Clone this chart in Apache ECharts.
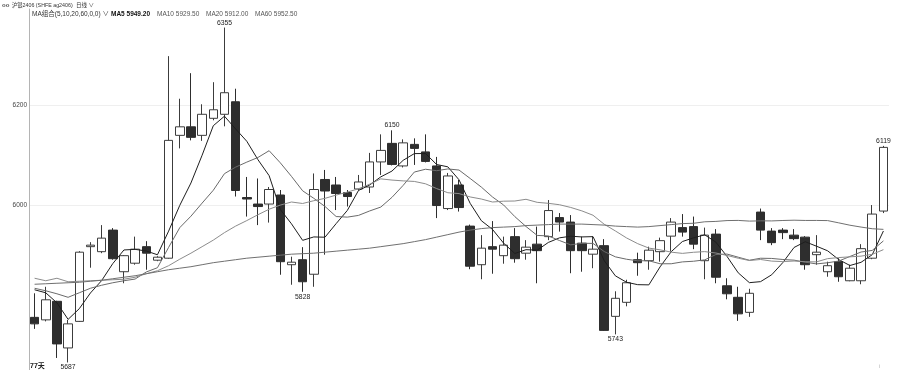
<!DOCTYPE html>
<html><head><meta charset="utf-8">
<script src="https://cdn.jsdelivr.net/npm/echarts@6/dist/echarts.min.js"></script>
<style>html,body{margin:0;padding:0;background:#fff}#c{width:900px;height:370px}</style>
</head><body><div id="c"></div>
<script>
// ---- data ----
const categories = ['1','2','3','4','5','6','7','8','9','10','11','12','13','14','15','16','17','18','19','20',
'21','22','23','24','25','26','27','28','29','30','31','32','33','34','35','36','37','38','39','40',
'41','42','43','44','45','46','47','48','49','50','51','52','53','54','55','56','57','58','59','60',
'61','62','63','64','65','66','67','68','69','70','71','72','73','74','75','76','77'];
const opens = [5777,5772,5809,5716,5769,5918,5908,5951,5868,5885,5918,5891,5895,6140,6157,6140,6174,6182,6207,6016,
6003,6003,6021,5882,5892,5863,6052,6041,6026,6033,6037,6087,6124,6079,6122,6107,6079,5994,6041,5959,
5882,5918,5900,5938,5905,5923,5938,5976,5967,5925,5903,5920,5779,5807,5892,5890,5908,5939,5956,5958,
5890,5943,5840,5817,5787,5987,5949,5951,5941,5937,5902,5868,5888,5850,5850,5895,5989];
const closes = [5764,5812,5724,5764,5907,5921,5935,5894,5900,5913,5905,5897,6130,6157,6136,6182,6191,6225,6030,6013,
5998,6032,5888,5887,5848,6032,6029,6024,6018,6047,6087,6110,6082,6125,6114,6088,6000,6059,5996,5879,
5915,5913,5921,5894,5917,5910,5990,5967,5910,5910,5913,5751,5815,5846,5886,5911,5930,5967,5947,5923,
5941,5857,5824,5784,5825,5951,5926,5946,5934,5882,5907,5880,5858,5875,5914,5983,6116];
const lows = [5754,5769,5696,5687,5768,5876,5905,5892,5845,5882,5872,5889,5894,6114,6130,6129,6170,6158,6018,5978,
5961,5966,5862,5842,5828,5838,5902,5991,5998,6030,6025,6061,6080,6076,6081,6086,5975,5991,5988,5873,
5853,5864,5884,5886,5892,5845,5931,5948,5865,5868,5875,5750,5743,5799,5860,5872,5888,5908,5938,5913,
5853,5845,5813,5770,5778,5931,5921,5933,5931,5872,5882,5858,5848,5849,5843,5893,5985];
const highs = [5825,5838,5810,5772,5909,5927,5961,5955,5901,5938,5929,5899,6298,6213,6264,6202,6246,6355,6233,6057,
6054,6037,6031,5898,5917,6064,6071,6057,6031,6061,6105,6142,6150,6132,6134,6142,6097,6065,6051,5962,
5941,5969,5938,5955,5931,5958,6011,5985,5981,5938,5938,5933,5829,5852,5906,5918,5936,5975,5983,5978,
5956,5953,5855,5838,5834,5994,5955,5955,5953,5939,5941,5888,5895,5882,5923,6001,6119];
// moving-average values before enough days are shown
const ma5Lead  = [5832,5826,5806,5773];
const ma10Lead = [5835,5830,5824,5817,5826,5835,5841,5846,5850];
const ma20Lead = [5855,5850,5855,5848,5849,5850,5851,5852,5853,5857,5864,5870,5880,5893,5905,5918,5931,5946,5959];
const ma60Lead = [5843,5844,5845,5846,5847,5849,5851,5854,5857,5860,
5864,5868,5872,5875,5878,5882,5886,5889,5892,5895,
5897,5899,5901,5903,5904,5905,5907,5909,5911,5913,
5915,5918,5921,5924,5928,5932,5937,5942,5947,5951,
5954,5956,5957,5958,5960,5961,5962,5963,5963,5963,
5962,5961,5959,5958,5957,5958,5960,5962,5964];
const highMarkDays = [17,32,76];
const lowMarkDays = [3,24,52];
const yTickValues = [6000,6200];

// ---- build ----
function movingAvg(n, lead){
  return closes.map((c,i)=>{
    if(i < n-1) return lead[i];
    let s=0; for(let k=i-n+1;k<=i;k++) s+=closes[k];
    return s/n;
  });
}
const ma5 = movingAvg(5, ma5Lead), ma10 = movingAvg(10, ma10Lead),
      ma20 = movingAvg(20, ma20Lead), ma60 = movingAvg(60, ma60Lead);
const last = closes.length-1;
const kdata = opens.map((o,i)=>[o, closes[i], lows[i], highs[i]]);
const FF = '"Liberation Sans","Noto Sans CJK SC",sans-serif';

const markData = highMarkDays.map(i=>({coord:[i, highs[i]], value: highs[i], label:{position:'top', distance:1}}))
  .concat(lowMarkDays.map(i=>({coord:[i, lows[i]], value: lows[i], label:{position:'bottom', distance:1}})));

function txt(x, y, text, opt){
  return Object.assign({type:'text', x:x, y:y, silent:true,
    style:Object.assign({text:text, fontSize:6.5, fontFamily:FF, fill:'#333', verticalAlign:'middle'}, opt||{})});
}

const chart = echarts.init(document.getElementById('c'), null, {renderer:'canvas'});
chart.setOption({
  animation:false,
  backgroundColor:'#fff',
  grid:{left:29, right:11, top:9, bottom:0, containLabel:false},
  xAxis:{type:'category', data:categories, boundaryGap:true,
    axisLine:{show:false}, axisTick:{show:false}, axisLabel:{show:false}, splitLine:{show:false}},
  yAxis:{type:'value', min:5672, max:6392, scale:true,
    axisLine:{show:true, lineStyle:{color:'#b4b4b4', width:1}},
    axisTick:{show:false, customValues:yTickValues},
    axisLabel:{customValues:yTickValues, fontSize:6.5, color:'#444', margin:2, fontFamily:FF,
      formatter:v=>String(v)},
    splitLine:{show:true, lineStyle:{color:'#efefef', width:1}}},
  series:[
    {type:'candlestick', data:kdata, barWidth:9,
      itemStyle:{color:'#ffffff', color0:'#2e2e2e', borderColor:'#3c3c3c', borderColor0:'#2e2e2e', borderWidth:1},
      markPoint:{symbol:'circle', symbolSize:1, itemStyle:{color:'rgba(0,0,0,0)'},
        label:{show:true, fontSize:6.8, color:'#222', fontFamily:FF, formatter:p=>String(p.value)},
        data:markData}},
    {type:'line', name:'MA5', data:ma5, symbol:'none', lineStyle:{color:'#1e1e1e', width:1}, z:3},
    {type:'line', name:'MA10', data:ma10, symbol:'none', lineStyle:{color:'#6a6a6a', width:1}, z:3},
    {type:'line', name:'MA20', data:ma20, symbol:'none', lineStyle:{color:'#8c8c8c', width:1}, z:3},
    {type:'line', name:'MA60', data:ma60, symbol:'none', lineStyle:{color:'#707070', width:1}, z:3}
  ],
  graphic:[
    txt(2, 5.5, 'oo', {fontWeight:'bold', fill:'#555', fontSize:6}),
    txt(12, 5.5, '沪银2406 (SHFE ag2406)', {fontSize:5.3}),
    txt(76, 5.5, '日线 ∨', {fontSize:5.5}),
    txt(32, 14, 'MA组合(5,10,20,60,0,0) ∨'),
    txt(111, 14, 'MA5 ' + ma5[last].toFixed(2), {fontWeight:'bold', fill:'#111'}),
    txt(157, 14, 'MA10 ' + ma10[last].toFixed(2), {fill:'#555'}),
    txt(206, 14, 'MA20 ' + ma20[last].toFixed(2), {fill:'#555'}),
    txt(255, 14, 'MA60 ' + ma60[last].toFixed(2), {fill:'#555'}),
    txt(30, 366, categories.length + '天', {fontWeight:'bold', fill:'#222', fontSize:7}),
    txt(879, 367, 'i', {fill:'#aaa', fontSize:5})
  ]
});
</script></body></html>
